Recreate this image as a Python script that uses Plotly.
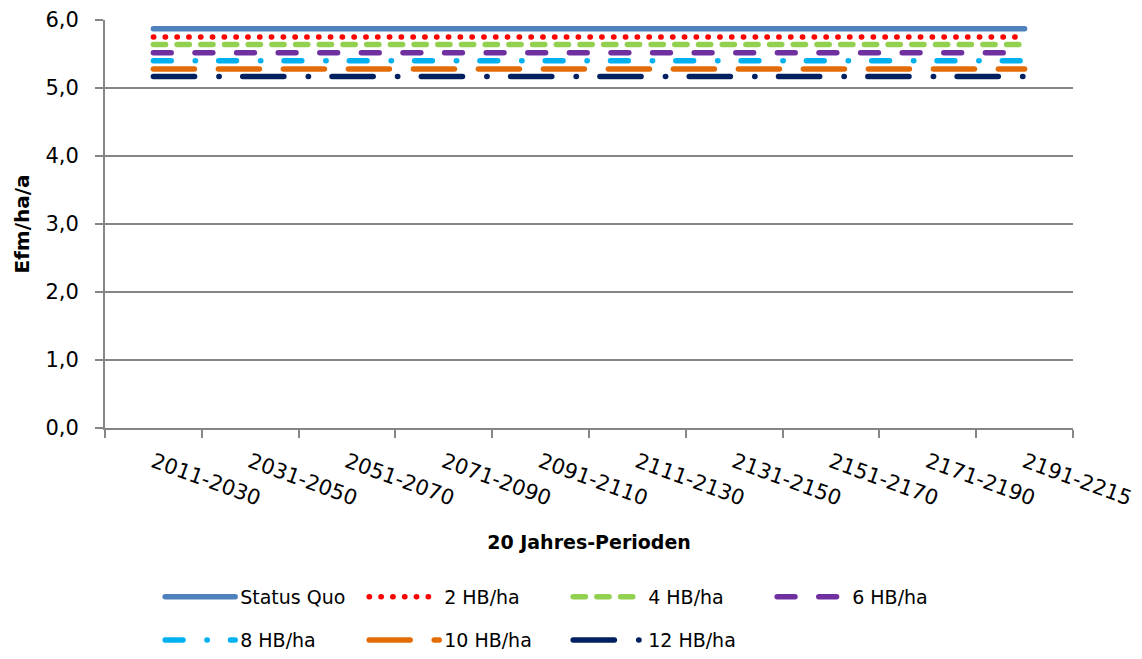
import plotly.graph_objects as go

periods = ["2011-2030", "2031-2050", "2051-2070", "2071-2090", "2091-2110",
           "2111-2130", "2131-2150", "2151-2170", "2171-2190", "2191-2215"]

series_names = ["Status Quo", "2 HB/ha", "4 HB/ha", "6 HB/ha", "8 HB/ha", "10 HB/ha", "12 HB/ha"]
status_quo = [5.87] * 10
hb2 = [5.75] * 10
hb4 = [5.64] * 10
hb6 = [5.52] * 10
hb8 = [5.40] * 10
hb10 = [5.28] * 10
hb12 = [5.17] * 10
series_values = [status_quo, hb2, hb4, hb6, hb8, hb10, hb12]

colors = ["#4F81BD", "#FF0000", "#92D050", "#7030A0", "#00B0F0", "#E36C09", "#002060"]
dashes = ["solid", "0.3px,11.5px", "12.2px,11.5px", "17.8px,23.8px",
          "17.8px,24px,0.3px,23.2px", "41px,24px", "41.2px,24.3px,0.3px,23.5px"]
legend_of = ["legend", "legend", "legend", "legend", "legend2", "legend2", "legend2"]

fig = go.Figure()
for name, vals, col, dsh, lg in zip(series_names, series_values, colors, dashes, legend_of):
    fig.add_trace(go.Scatter(x=periods, y=vals, name=name, mode="lines",
                             line=dict(color=col, width=5.5, dash=dsh),
                             legend=lg))

grid = "#868686"
font_main = "DejaVu Sans"
leg_common = dict(orientation="h", x=0.057, xanchor="left", yanchor="middle",
                  entrywidth=119, entrywidthmode="pixels", itemwidth=70,
                  font=dict(family=font_main, size=19), bgcolor="rgba(0,0,0,0)")
fig.update_layout(
    width=1142, height=659,
    margin=dict(l=105, r=69, t=20, b=231, autoexpand=False),
    paper_bgcolor="white", plot_bgcolor="white",
    separators=",.",
    font=dict(family=font_main, size=19, color="#000000"),
    showlegend=True,
    legend=dict(y=-0.414, **leg_common),
    legend2=dict(y=-0.52, **leg_common),
)
fig.update_xaxes(
    type="category", range=[-0.5, 9.5], showgrid=False, showline=True, linecolor=grid, linewidth=2,
    ticks="outside", tickson="boundaries", ticklen=8, tickcolor=grid, tickwidth=2,
    tickangle=20, tickfont=dict(family=font_main, size=21), ticklabelstandoff=12,
    title=dict(text="<b>20 Jahres-Perioden</b>", font=dict(family=font_main, size=19), standoff=26),
    automargin=False,
)
fig.update_yaxes(
    range=[0, 6], dtick=1, tickformat=".1f", showgrid=True, gridcolor=grid, gridwidth=2,
    showline=True, linecolor=grid, linewidth=2, zeroline=False,
    ticks="outside", ticklen=8, tickcolor=grid, tickwidth=2, ticklabelstandoff=12,
    tickfont=dict(family=font_main, size=21),
    title=dict(text="<b>Efm/ha/a</b>", font=dict(family=font_main, size=20), standoff=10),
    automargin=False,
)

post = ("var s=document.createElement('style');"
        "s.textContent='.js-line{stroke-linecap:round;}';"
        "document.head.appendChild(s);")
fig.write_html("out.html", post_script=post)
